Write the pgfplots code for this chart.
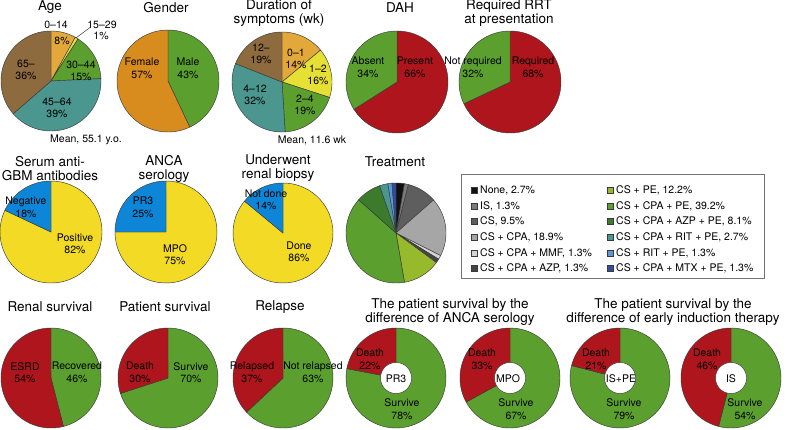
\documentclass[border=0pt]{standalone}
\usepackage{fontspec}
\setmainfont{TeX Gyre Heros}
\usepackage{pgfplots}
\pgfplotsset{compat=1.18}

\definecolor{edge}{HTML}{3A3A3A}
\definecolor{gold}{HTML}{E3A83A}
\definecolor{lemon}{HTML}{E6E034}
\definecolor{grn}{HTML}{5BA02E}
\definecolor{teal}{HTML}{4C9690}
\definecolor{brown}{HTML}{8E6B3F}
\definecolor{orng}{HTML}{D98C1E}
\definecolor{red}{HTML}{AE151C}
\definecolor{yel}{HTML}{F2DA25}
\definecolor{blu}{HTML}{0E86D8}
% treatment
\definecolor{tnone}{HTML}{111111}
\definecolor{tis}{HTML}{7A7A7A}
\definecolor{tcs}{HTML}{5E5E5E}
\definecolor{tcpa}{HTML}{A6A6A6}
\definecolor{tmmf}{HTML}{D4D4D4}
\definecolor{tazp}{HTML}{454545}
\definecolor{tpe}{HTML}{97BA2C}
\definecolor{tcpape}{HTML}{5BA02E}
\definecolor{tazppe}{HTML}{3C7A2C}
\definecolor{tritpe}{HTML}{4C9690}
\definecolor{tcsrit}{HTML}{5B98DA}
\definecolor{tmtx}{HTML}{2E4E9E}

% pie: centre x, centre y, radius, {value/colour,...} clockwise from 12 o'clock
% values are scaled by their sum, so rounded percentages still close the circle
\newcommand{\pie}[4]{%
  \xdef\pietotal{0}%
  \foreach \v/\c in {#4} {%
    \pgfmathsetmacro\t{\pietotal+\v}\global\let\pietotal\t}%
  \pgfmathsetmacro\degper{360/\pietotal}%
  \global\let\degper\degper
  \xdef\angstart{-90}%
  \foreach \v/\c in {#4} {%
    \pgfmathsetmacro\angend{\angstart+\v*\degper}%
    \edef\tmp{\noexpand\addplot[draw=edge, line width=0.45pt, fill=\c,
      domain=\angstart:\angend, samples=60]
      ({#1+#3*cos(x)},{#2+#3*sin(x)}) -- (#1,#2) -- cycle;}%
    \tmp
    \global\let\angstart\angend
  }%
}
\newcommand{\hole}[2]{%
  \addplot[draw=edge, line width=0.45pt, fill=white, domain=0:360, samples=60]
    ({#1+15.5*cos(x)},{#2+15.5*sin(x)}) -- cycle;}
\newcommand{\lbl}[3]{\node[font=\fontsize{10.5}{12.5}\selectfont, align=center, inner sep=0pt] at (axis cs:#1,#2) {#3};}
\newcommand{\ttl}[3]{\node[font=\fontsize{13.5}{14}\selectfont, align=center, inner sep=0pt] at (axis cs:#1,#2) {#3};}
\newcommand{\leg}[4]{%
  \fill[#4, draw=edge, line width=0.3pt] (axis cs:#1-3,#2-3) rectangle (axis cs:#1+3,#2+3);
  \node[font=\fontsize{10.5}{12}\selectfont, anchor=west, inner sep=0pt] at (axis cs:#1+6,#2) {#3};}

\begin{document}
\begin{tikzpicture}
\useasboundingbox (0,0) rectangle (787pt,430pt);
\begin{axis}[width=787pt, height=430pt, scale only axis,
  xmin=0, xmax=787, ymin=0, ymax=430, y dir=reverse,
  hide axis, clip=false]

% row 1
\pie{51}{81}{50}{8/gold, 1/lemon, 15/grn, 39/teal, 36/brown}
\pie{168}{81}{51}{43/grn, 57/orng}
\pie{282}{82}{50}{14/gold, 16/lemon, 19/grn, 32/teal, 19/brown}
\pie{397}{82}{51}{66/red, 34/grn}
\pie{510}{82}{51}{68/red, 32/grn}
% row 2
\pie{51}{232}{51}{82/yel, 18/blu}
\pie{166}{232}{51}{75/yel, 25/blu}
\pie{283}{233}{50}{86/yel, 14/blu}
\pie{396}{233}{50}{2.7/tnone, 1.3/tis, 9.5/tcs, 18.9/tcpa, 1.3/tmmf, 1.3/tazp,
  12.2/tpe, 39.2/tcpape, 8.1/tazppe, 2.7/tritpe, 1.3/tcsrit, 1.3/tmtx}
% row 3
\pie{51}{378}{50}{46/grn, 54/red}
\pie{168}{378}{50}{70/grn, 30/red}
\pie{283}{378}{50}{63/grn, 37/red}
\pie{396}{378}{50}{78/grn, 22/red}
\pie{510}{378}{50}{67/grn, 33/red}
\pie{620}{378}{50}{79/grn, 21/red}
\pie{731}{378}{50}{54/grn, 46/red}
\hole{396}{378}
\hole{510}{378}
\hole{620}{378}
\hole{731}{378}

% titles
\ttl{50}{7.5}{Age}
\ttl{166}{7.5}{Gender}
\ttl{279}{13.5}{Duration of\\symptoms (wk)}
\ttl{400}{7.5}{DAH}
\ttl{509}{13.5}{Required RRT\\at presentation}
\ttl{50}{168.5}{Serum anti-\\GBM antibodies}
\ttl{164}{168.5}{ANCA\\serology}
\ttl{278}{168}{Underwent\\renal biopsy}
\ttl{395}{161.5}{Treatment}
\ttl{50}{307}{Renal survival}
\ttl{165}{307}{Patient survival}
\ttl{280}{307}{Relapse}
\ttl{450}{312}{The patient survival by the\\difference of ANCA serology}
\ttl{673}{312}{The patient survival by the\\difference of early induction therapy}

% row 1 labels
\lbl{56}{25}{0–14}
\lbl{102}{25}{15–29}
\lbl{101}{35.5}{1\%}
\draw[edge, line width=0.5pt] (axis cs:76,38) -- (axis cs:90,27.5);
\lbl{62}{41}{8\%}
\lbl{81}{71}{30–44\\15\%}
\lbl{57}{108}{45–64\\39\%}
\lbl{26}{70}{65–\\36\%}
\lbl{86}{140}{Mean, 55.1 y.o.}
\lbl{142}{68.5}{Female\\57\%}
\lbl{188}{68.5}{Male\\43\%}
\lbl{296}{59}{0–1\\14\%}
\lbl{318}{75}{1–2\\16\%}
\lbl{305}{105}{2–4\\19\%}
\lbl{255}{95}{4–12\\32\%}
\lbl{261}{54}{12–\\19\%}
\lbl{312}{140}{Mean, 11.6 wk}
\lbl{368}{67.5}{Absent\\34\%}
\lbl{415}{67.5}{Present\\66\%}
\lbl{473}{67.5}{Not required\\32\%}
\lbl{533}{67.5}{Required\\68\%}
% row 2 labels
\lbl{26}{207.5}{Negative\\18\%}
\lbl{75}{244}{Positive\\82\%}
\lbl{143}{207.5}{PR3\\25\%}
\lbl{175}{254.5}{MPO\\75\%}
\lbl{266}{200}{Not done\\14\%}
\lbl{299}{252}{Done\\86\%}
% row 3 labels
\lbl{25}{372.5}{ESRD\\54\%}
\lbl{77}{372.5}{Recovered\\46\%}
\lbl{140}{372.5}{Death\\30\%}
\lbl{191}{372.5}{Survive\\70\%}
\lbl{252}{372.5}{Relapsed\\37\%}
\lbl{313}{372.5}{Not relapsed\\63\%}
\lbl{370}{359.5}{Death\\22\%}
\lbl{396}{379}{PR3}
\lbl{402}{409}{Survive\\78\%}
\lbl{482}{359.5}{Death\\33\%}
\lbl{508}{379}{MPO}
\lbl{516}{409}{Survive\\67\%}
\lbl{596}{359.5}{Death\\21\%}
\lbl{621}{379}{IS+PE}
\lbl{624}{409}{Survive\\79\%}
\lbl{707}{359.5}{Death\\46\%}
\lbl{731}{379}{IS}
\lbl{745}{409}{Survive\\54\%}

% treatment legend
\draw[black!55, line width=0.6pt] (axis cs:461,174) rectangle (axis cs:764,278);
\leg{474}{190}{None, 2.7\%}{tnone}
\leg{474}{206}{IS, 1.3\%}{tis}
\leg{474}{221}{CS, 9.5\%}{tcs}
\leg{474}{237}{CS + CPA, 18.9\%}{tcpa}
\leg{474}{253}{CS + CPA + MMF, 1.3\%}{tmmf}
\leg{474}{268}{CS + CPA + AZP, 1.3\%}{tazp}
\leg{610}{190}{CS + PE, 12.2\%}{tpe}
\leg{610}{206}{CS + CPA + PE, 39.2\%}{tcpape}
\leg{610}{221}{CS + CPA + AZP + PE, 8.1\%}{tazppe}
\leg{610}{237}{CS + CPA + RIT + PE, 2.7\%}{tritpe}
\leg{610}{253}{CS + RIT + PE, 1.3\%}{tcsrit}
\leg{610}{268}{CS + CPA + MTX + PE, 1.3\%}{tmtx}
\end{axis}
\end{tikzpicture}
\end{document}
